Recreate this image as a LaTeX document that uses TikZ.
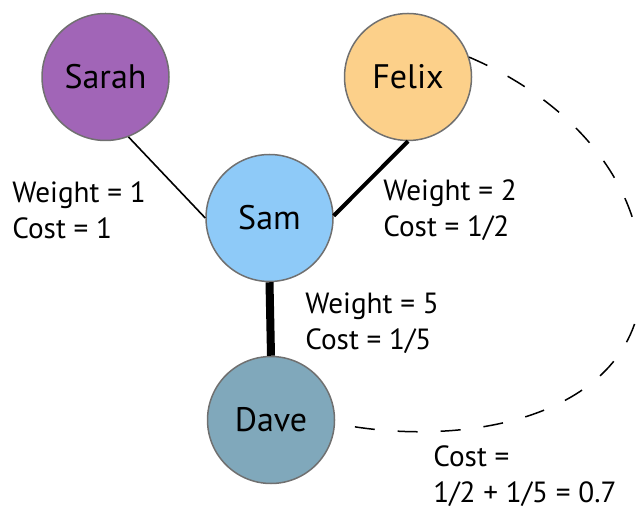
\documentclass[tikz,border=0pt]{standalone}
\usepackage{fontspec}
\setmainfont{PT Sans}
\definecolor{sarahcol}{RGB}{161,101,183}
\definecolor{felixcol}{RGB}{252,208,138}
\definecolor{samcol}{RGB}{142,202,248}
\definecolor{davecol}{RGB}{128,168,187}
\definecolor{rimgray}{RGB}{112,112,112}

\begin{document}
\begin{tikzpicture}[x=0.5pt,y=-0.5pt,
  person/.style={circle, draw=rimgray, line width=0.75pt, minimum size=63.5pt, inner sep=0pt, font=\fontsize{17}{20}\selectfont},
  info/.style={anchor=west, align=left, inner sep=0pt, font=\fontsize{14.6}{18}\selectfont}]
\useasboundingbox (0,0) rectangle (636,512);

\node[person, fill=sarahcol](Sarah) at (105.5,77) {Sarah};
\node[person, fill=felixcol](Felix) at (408,77) {Felix};
\node[person, fill=samcol](Sam) at (269.5,218) {Sam};
\node[person, fill=davecol](Dave) at (271,420) {Dave};

\node[info](sarahInfo) at (12,210) {Weight = 1\\Cost = 1};
\node[info](felixInfo) at (383,210) {Weight = 2\\Cost = 1/2};
\node[info](daveInfo) at (305,323) {Weight = 5\\Cost = 1/5};
\node[info](pathInfo) at (433,476) {Cost =\\1/2 + 1/5 = 0.7};

\path[draw, line width=0.8pt](Sarah.-69) -- (Sam.west);
\path[draw, line width=2pt](Felix.south) -- (Sam.2);
\path[draw, line width=4pt](Sam.south) -- (Dave.north);

% path Felix -> Dave through the right side
\coordinate (bend) at (642,278);
\path[draw, line width=0.75pt, dash pattern=on 10pt off 11.5pt]
  (Felix.18) .. controls +(94,40) and +(0,-102) .. (bend)
  .. controls +(0,137) and +(134,27) .. (Dave.-3);
\end{tikzpicture}
\end{document}
